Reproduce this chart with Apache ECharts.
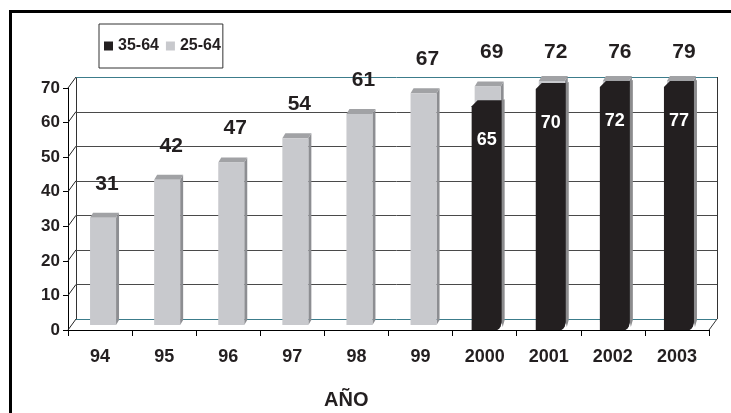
<!DOCTYPE html>
<html>
<head>
<meta charset="utf-8">
<script src="https://cdn.jsdelivr.net/npm/echarts@6/dist/echarts.min.js"></script>
<style>
  html, body { margin: 0; padding: 0; background: #ffffff; }
  #chart { width: 731px; height: 413px; }
</style>
</head>
<body>
<div id="chart"></div>
<script>
// Years on the category axis
const years = ['94', '95', '96', '97', '98', '99', '2000', '2001', '2002', '2003'];
// Share (%) for the 25-64 age group
const share2564 = [31, 42, 47, 54, 61, 67, 69, 72, 76, 79];
// Share (%) for the 35-64 age group (only from 2000)
const share3564 = [null, null, null, null, null, null, 65, 70, 72, 77];
// Value axis ticks
const yTicks = [0, 10, 20, 30, 40, 50, 60, 70];
const yMax = 70;
const yStep = 10;

const FONT = '"Liberation Sans", Arial, Helvetica, sans-serif';
const INK = '#231f20';
const WALL_DX = 8, WALL_DY = 11;   // depth of the back wall
const px = v => Math.round(v) + 0.5;

// Back wall gridlines, floor and the slanted links from the front axis
function renderWall(params, api) {
  const cs = params.coordSys;
  const v = api.value(1);
  const y = api.coord([0, v])[1];
  const left = cs.x, right = cs.x + cs.width;
  const edge = (v === 0 || v === yMax);
  const children = [
    { type: 'line',
      shape: { x1: left + WALL_DX, y1: px(y - WALL_DY), x2: right + WALL_DX, y2: px(y - WALL_DY) },
      style: { stroke: edge ? '#3c7c8b' : '#4a4a4a', lineWidth: 1 } },
    { type: 'line',
      shape: { x1: left, y1: y, x2: left + WALL_DX, y2: y - WALL_DY },
      style: { stroke: '#222', lineWidth: 1 } }
  ];
  if (v === 0) {
    const yTop = api.coord([0, yMax])[1];
    children.push(
      { type: 'line', shape: { x1: px(left + WALL_DX), y1: y - WALL_DY, x2: px(left + WALL_DX), y2: yTop - WALL_DY },
        style: { stroke: '#333', lineWidth: 1 } },
      { type: 'line', shape: { x1: px(right + WALL_DX), y1: y - WALL_DY, x2: px(right + WALL_DX), y2: yTop - WALL_DY },
        style: { stroke: '#333', lineWidth: 1 } },
      { type: 'line', shape: { x1: right, y1: y, x2: right + WALL_DX, y2: y - WALL_DY },
        style: { stroke: '#333', lineWidth: 1 } }
    );
  }
  return { type: 'group', children };
}

// Light grey 3D columns (25-64), cut at the top of the wall
function renderGrey(params, api) {
  const i = api.value(0), v = api.value(1);
  if (isNaN(v)) return null;
  const top = api.coord([i, v]);
  const base = api.coord([i, 0]);
  const clipTop = api.coord([i, yMax])[1] - 7;
  const cx = top[0] + 3, hw = 13, dx = 3, dy = 5;
  const rawTop = top[1] - 5;
  const ft = Math.max(rawTop, clipTop);
  const fb = base[1] - 5;
  const x0 = cx - hw, x1 = cx + hw;
  const labelY = Math.max(rawTop - 34, clipTop - 29);
  return {
    type: 'group',
    children: [
      { type: 'polygon', shape: { points: [[x1, ft], [x1 + dx, ft - dy], [x1 + dx, fb - dy], [x1, fb]] },
        style: { fill: '#8d8e92' } },
      { type: 'polygon', shape: { points: [[x0, ft], [x0 + dx, ft - dy], [x1 + dx, ft - dy], [x1, ft]] },
        style: { fill: '#a1a2a5' } },
      { type: 'rect', shape: { x: x0, y: ft, width: 2 * hw, height: fb - ft },
        style: { fill: '#c8c9cd' } },
      { type: 'text',
        style: { text: String(v), x: cx + 4, y: labelY, align: 'center', verticalAlign: 'middle',
                 fill: INK, fontFamily: FONT, fontSize: 21, fontWeight: 'bold' } }
    ]
  };
}

// Dark 3D columns (35-64) standing in front
function renderDark(params, api) {
  const i = api.value(0), v = api.value(1);
  if (isNaN(v)) return null;
  const top = api.coord([i, v]);
  const base = api.coord([i, 0]);
  const clipTop = api.coord([i, yMax])[1] - 7;
  const cx = top[0] + 2, hw = 15, bev = 6, r = 8;
  const ft = Math.max(top[1] - 5, clipTop);
  const fb = base[1];
  const x0 = cx - hw, x1 = cx + hw;
  const face = [
    [x0, ft + bev], [x0 + bev, ft], [x1, ft],
    [x1, fb - r], [x1 - 1, fb - r * 0.45], [x1 - 2.5, fb - r * 0.15], [x1 - r * 0.55, fb],
    [x0, fb]
  ];
  return {
    type: 'group',
    children: [
      { type: 'polygon',
        shape: { points: [[x1, ft], [x1 + 3, ft - 1], [x1 + 3, fb - r - 2], [x1 + 1, fb - 3], [x1, fb - r]] },
        style: { fill: '#8c8c8e' } },
      { type: 'polygon', shape: { points: face }, style: { fill: INK } },
      { type: 'text',
        style: { text: String(v), x: cx, y: ft + 40, align: 'center', verticalAlign: 'middle',
                 fill: '#ffffff', fontFamily: FONT, fontSize: 18, fontWeight: 'bold' } }
    ]
  };
}

const chart = echarts.init(document.getElementById('chart'), null, { renderer: 'canvas' });

chart.setOption({
  animation: false,
  backgroundColor: '#ffffff',
  textStyle: { fontFamily: FONT },
  graphic: [
    { type: 'rect', z: -10, silent: true,
      shape: { x: 10.5, y: 11.5, width: 900, height: 600 },
      style: { fill: 'none', stroke: '#000', lineWidth: 3 } },
    { type: 'text', left: 324, top: 390, silent: true,
      style: { text: 'AÑO', fill: INK, font: 'bold 20px ' + FONT } }
  ],
  legend: {
    data: ['35-64', '25-64'],
    left: 99, top: 24,
    orient: 'horizontal',
    icon: 'rect',
    itemWidth: 9, itemHeight: 9, itemGap: 7,
    padding: [14, 2, 14, 5],
    borderColor: '#333', borderWidth: 1,
    selectedMode: false,
    textStyle: { fontFamily: FONT, fontSize: 16, fontWeight: 'bold', color: INK }
  },
  grid: { left: 68, top: 88, width: 641, height: 242, containLabel: false },
  xAxis: {
    type: 'category',
    data: years,
    boundaryGap: true,
    axisLine: { lineStyle: { color: '#000', width: 1 } },
    axisTick: { show: true, alignWithLabel: false, length: 6, lineStyle: { color: '#000' } },
    axisLabel: { margin: 18, color: INK, fontFamily: FONT, fontSize: 18, fontWeight: 'bold', interval: 0 },
    splitLine: { show: false }
  },
  yAxis: {
    type: 'value',
    min: 0, max: yMax, interval: yStep,
    axisLine: { show: true, lineStyle: { color: '#000', width: 1 } },
    axisTick: { show: true, length: 5, lineStyle: { color: '#000' } },
    axisLabel: { margin: 8, color: INK, fontFamily: FONT, fontSize: 17, fontWeight: 'bold' },
    splitLine: { show: false }
  },
  series: [
    { type: 'custom', name: 'wall', silent: true, clip: false, z: 1,
      renderItem: renderWall,
      data: yTicks.map(v => [0, v]) },
    { type: 'custom', name: '25-64', clip: false, z: 3,
      itemStyle: { color: '#c8c9cd' },
      renderItem: renderGrey,
      data: share2564.map((v, i) => [i, v]) },
    { type: 'custom', name: '35-64', clip: false, z: 4,
      itemStyle: { color: INK },
      renderItem: renderDark,
      data: share3564.map((v, i) => [i, v == null ? '-' : v]) }
  ]
});
</script>
</body>
</html>
